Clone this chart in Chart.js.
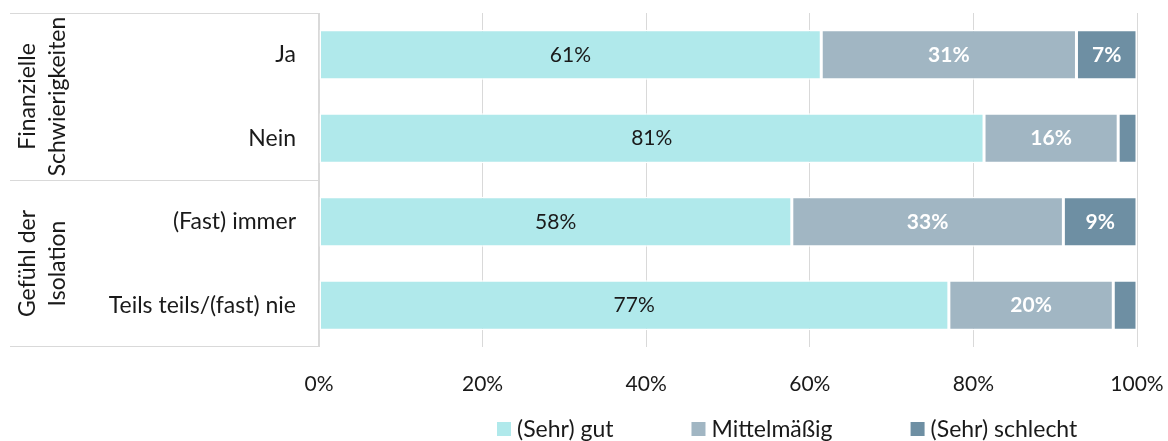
<!DOCTYPE html>
<html>
<head>
<meta charset="utf-8">
<script src="https://cdn.jsdelivr.net/npm/chart.js@4"></script>
<style>
  html, body { margin: 0; padding: 0; background: #fff; }
  #wrap { width: 1168px; height: 441px; }
</style>
</head>
<body>
<div id="wrap"><canvas id="barChart"></canvas></div>
<script>
// data
const categories = ['Ja', 'Nein', '(Fast) immer', 'Teils teils/(fast) nie'];
const groups = [['Finanzielle', 'Schwierigkeiten'], ['Gefühl der', 'Isolation']];
const groupSizes = [2, 2];
const seriesNames = ['(Sehr) gut', 'Mittelmäßig', '(Sehr) schlecht'];
const gut = [61.4, 81.3, 57.8, 77.0];
const mittel = [31.2, 16.4, 33.2, 20.1];
const schlecht = [7.4, 2.3, 9.0, 2.9];
const xTicks = [0, 20, 40, 60, 80, 100];

const colors = ['#B0E9EB', '#A1B6C3', '#6E8FA3'];
const fontFam = 'Lato, "Open Sans", sans-serif';
const textColor = '#1a1a1a';

const ctx = document.getElementById('barChart');

// no extra label padding around the plot
const noPad = s => { s.paddingTop = 0; s.paddingBottom = 0; s.paddingLeft = 0; s.paddingRight = 0; };

// value labels inside the bars
const barLabels = {
    id: 'barLabels',
    afterDatasetsDraw(chart) {
        const c = chart.ctx;
        c.save();
        c.textAlign = 'center';
        c.textBaseline = 'middle';
        chart.data.datasets.forEach((ds, i) => {
            const meta = chart.getDatasetMeta(i);
            meta.data.forEach((bar, j) => {
                const v = ds.data[j];
                if (v < 5) return;
                const p = bar.getProps(['x', 'y', 'base'], true);
                c.fillStyle = i === 0 ? textColor : '#ffffff';
                c.font = (i === 0 ? '' : 'bold ') + '21px ' + fontFam;
                c.fillText(Math.round(v) + '%', (p.x + p.base) / 2, p.y);
            });
        });
        c.restore();
    }
};

// group boxes + rotated group titles, and the legend
const groupsAndLegend = {
    id: 'groupsAndLegend',
    afterDraw(chart) {
        const c = chart.ctx;
        const area = chart.chartArea;
        const left = 10;
        c.save();
        c.strokeStyle = '#D9D9D9';
        c.lineWidth = 1;
        c.beginPath();
        c.moveTo(area.left - 0.5, area.top);
        c.lineTo(area.left - 0.5, area.bottom);
        c.stroke();

        let start = 0;
        const step = (area.bottom - area.top) / categories.length;
        groups.forEach((g, gi) => {
            const top = area.top + start * step;
            const bottom = top + groupSizes[gi] * step;
            c.beginPath();
            c.moveTo(left, Math.round(top) + 0.5);
            c.lineTo(area.left, Math.round(top) + 0.5);
            c.stroke();
            if (gi === groups.length - 1) {
                c.beginPath();
                c.moveTo(left, Math.round(bottom) - 0.5);
                c.lineTo(area.left, Math.round(bottom) - 0.5);
                c.stroke();
            }
            c.save();
            c.translate(43, (top + bottom) / 2);
            c.rotate(-Math.PI / 2);
            c.fillStyle = textColor;
            c.font = '23px ' + fontFam;
            c.textAlign = 'center';
            c.textBaseline = 'middle';
            c.fillText(g[0], 0, -15);
            c.fillText(g[1], 0, 15);
            c.restore();
            start += groupSizes[gi];
        });

        // legend
        c.font = '23px ' + fontFam;
        c.textBaseline = 'middle';
        c.textAlign = 'left';
        const box = 14, gap = 6, spacing = 78;
        let lx = 497;
        const ly = 429;
        seriesNames.forEach((n, i) => {
            c.fillStyle = colors[i];
            c.fillRect(lx, ly - box / 2, box, box);
            c.fillStyle = textColor;
            c.fillText(n, lx + box + gap, ly + 1);
            lx += box + gap + c.measureText(n).width + spacing;
        });
        c.restore();
    }
};

new Chart(ctx, {
    type: 'bar',
    data: {
        labels: categories,
        datasets: [
            { label: seriesNames[0], data: gut, backgroundColor: colors[0] },
            { label: seriesNames[1], data: mittel, backgroundColor: colors[1] },
            { label: seriesNames[2], data: schlecht, backgroundColor: colors[2] }
        ].map(d => Object.assign(d, {
            borderColor: '#ffffff',
            borderWidth: 1.5,
            borderSkipped: false,
            barPercentage: 1,
            categoryPercentage: 0.6
        }))
    },
    options: {
        indexAxis: 'y',
        responsive: true,
        maintainAspectRatio: false,
        animation: false,
        layout: { autoPadding: false, padding: { left: 10, top: 13, right: 31, bottom: 0 } },
        plugins: {
            legend: { display: false },
            tooltip: { enabled: false }
        },
        scales: {
            x: {
                stacked: true,
                min: 0,
                max: 100,
                afterBuildTicks: s => { s.ticks = xTicks.map(v => ({ value: v })); },
                afterFit: s => { s.height = 94; noPad(s); },
                grid: { color: '#D9D9D9', drawTicks: false },
                border: { display: false },
                ticks: {
                    padding: 25,
                    color: textColor,
                    font: { family: fontFam, size: 21 },
                    callback: v => v + '%'
                }
            },
            y: {
                stacked: true,
                afterFit: s => { s.width = 309; noPad(s); },
                grid: { display: false, drawTicks: false },
                border: { display: false },
                ticks: {
                    padding: 23,
                    color: textColor,
                    font: { family: fontFam, size: 23 }
                }
            }
        }
    },
    plugins: [barLabels, groupsAndLegend]
});
</script>
</body>
</html>
